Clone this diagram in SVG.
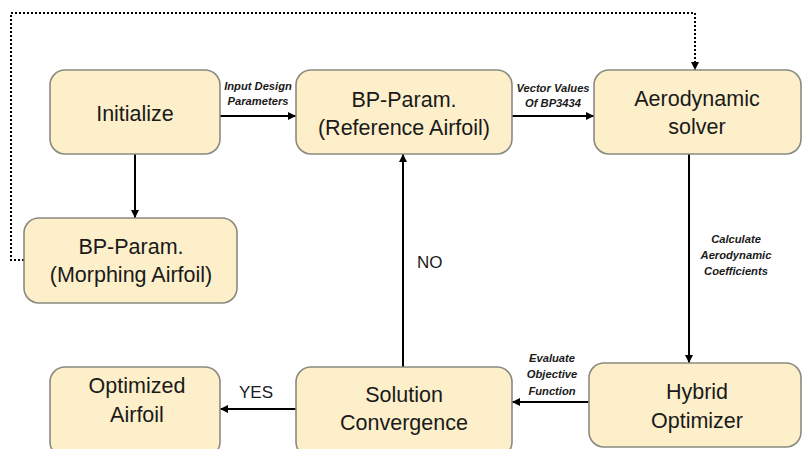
<svg xmlns="http://www.w3.org/2000/svg" width="802" height="449" viewBox="0 0 802 449">
<style>
.box{fill:#FDEFC9;stroke:#8A8A80;stroke-width:1.6}
.t{font-family:"Liberation Sans",Arial,sans-serif;font-size:21.5px;fill:#1a1a1a;text-anchor:middle}
.l{font-family:"Liberation Sans",Arial,sans-serif;font-size:11.2px;font-weight:bold;font-style:italic;fill:#1a1a1a;text-anchor:middle}
.y{font-family:"Liberation Sans",Arial,sans-serif;font-size:17px;fill:#1a1a1a}
.c{fill:none;stroke:#000;stroke-width:2}
.d{fill:none;stroke:#000;stroke-width:2;stroke-dasharray:2 2}
</style>
<defs>
<marker id="ah" viewBox="0 0 10 10" refX="10" refY="5" markerWidth="4" markerHeight="4" orient="auto" markerUnits="strokeWidth">
<path d="M0,0 L10,5 L0,10 z" fill="#000"/>
</marker>
</defs>
<rect width="802" height="449" fill="#fff"/>
<g id="connectors">
<path class="c" d="M220,116 H296" marker-end="url(#ah)"/>
<path class="c" d="M512,116 H594" marker-end="url(#ah)"/>
<path class="c" d="M135,154 V218" marker-end="url(#ah)"/>
<path class="d" d="M24,260 H11 V13 H695 V70" marker-end="url(#ah)"/>
<path class="c" d="M689,154 V363" marker-end="url(#ah)"/>
<path class="c" d="M589,402 H512" marker-end="url(#ah)"/>
<path class="c" d="M403,367 V154" marker-end="url(#ah)"/>
<path class="c" d="M296,409 H220" marker-end="url(#ah)"/>
<text class="l" x="258" y="90">Input Design</text>
<text class="l" x="258" y="105">Parameters</text>
<text class="l" x="553" y="92">Vector Values</text>
<text class="l" x="553" y="107">Of BP3434</text>
<text class="l" x="736" y="243">Calculate</text>
<text class="l" x="736" y="259">Aerodynamic</text>
<text class="l" x="736" y="275">Coefficients</text>
<text class="l" x="552" y="362">Evaluate</text>
<text class="l" x="552" y="378">Objective</text>
<text class="l" x="552" y="395">Function</text>
<text class="y" x="417" y="268">NO</text>
<text class="y" x="239" y="398">YES</text>
</g>
<g id="initialize">
<rect class="box" x="50" y="70" width="170" height="84" rx="15"/>
<text class="t" x="135" y="121">Initialize</text>
</g>
<g id="bp-reference">
<rect class="box" x="296" y="70" width="216" height="84" rx="15"/>
<text class="t" x="404" y="107">BP-Param.</text>
<text class="t" x="404" y="135">(Reference Airfoil)</text>
</g>
<g id="aero-solver">
<rect class="box" x="594" y="70" width="207" height="84" rx="15"/>
<text class="t" x="697" y="106">Aerodynamic</text>
<text class="t" x="697" y="134">solver</text>
</g>
<g id="bp-morphing">
<rect class="box" x="24" y="218" width="213" height="85" rx="15"/>
<text class="t" x="131" y="254">BP-Param.</text>
<text class="t" x="131" y="282">(Morphing Airfoil)</text>
</g>
<g id="optimized">
<rect class="box" x="50" y="367" width="170" height="90" rx="15"/>
<text class="t" x="137" y="393">Optimized</text>
<text class="t" x="137" y="422">Airfoil</text>
</g>
<g id="convergence">
<rect class="box" x="296" y="367" width="216" height="90" rx="15"/>
<text class="t" x="404" y="402">Solution</text>
<text class="t" x="404" y="430">Convergence</text>
</g>
<g id="hybrid">
<rect class="box" x="589" y="363" width="212" height="84" rx="15"/>
<text class="t" x="697" y="399">Hybrid</text>
<text class="t" x="697" y="428">Optimizer</text>
</g>
</svg>
